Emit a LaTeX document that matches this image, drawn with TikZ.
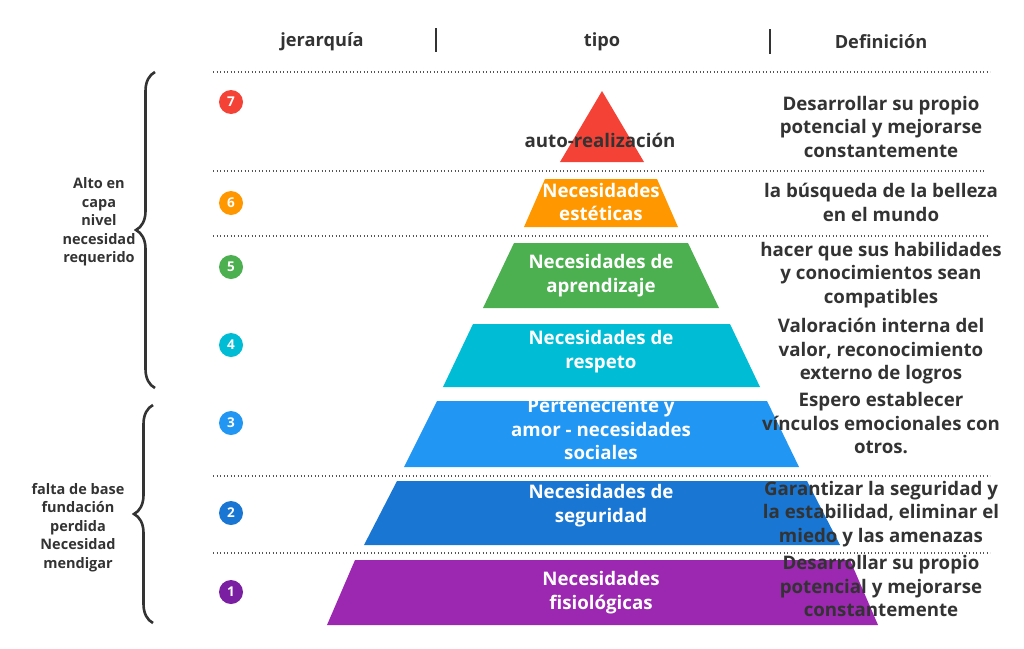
\documentclass[tikz,border=0pt]{standalone}
\usepackage{fontspec}
\setmainfont{Open Sans}
\usetikzlibrary{decorations.pathreplacing}
\definecolor{txt}{HTML}{333333}
\definecolor{dotc}{HTML}{555555}
\definecolor{cseven}{HTML}{F44336}
\definecolor{csix}{HTML}{FF9800}
\definecolor{cfive}{HTML}{4CAF50}
\definecolor{cfour}{HTML}{00BCD4}
\definecolor{cthree}{HTML}{2196F3}
\definecolor{ctwo}{HTML}{1976D2}
\definecolor{cone}{HTML}{9C27B0}
\definecolor{conedark}{HTML}{7B1FA2}
\begin{document}
\begin{tikzpicture}[x=1pt,y=-1pt,
  head/.style={text=txt, font=\fontsize{18.2}{20}\selectfont\bfseries},
  deftext/.style={align=center, text=txt, font=\fontsize{18.7}{23.5}\selectfont\bfseries},
  laytext/.style={align=center, text=white, font=\fontsize{18.7}{23.5}\selectfont\bfseries},
  sidetext/.style={align=center, text=txt, font=\fontsize{14.5}{18.5}\selectfont\bfseries},
  num/.style={circle, inner sep=0pt, minimum size=24pt, text=white, font=\fontsize{13.5}{15}\selectfont\bfseries},
  sep/.style={draw=txt, line width=1.6pt},
  dotline/.style={draw=dotc, line width=1.2pt, dash pattern=on 1.2pt off 2.3pt},
  bracestyle/.style={draw=txt, line width=2.6pt, decorate, decoration={brace, amplitude=19pt, aspect=0.5}}
]
\useasboundingbox (0,0) rectangle (1024,648);
% header
\node[head] (h1) at (322,42) {jerarquía};
\node[head] (h2) at (602,42) {tipo};
\node[head] (h3) at (881,42) {Definición};
\coordinate (s1a) at (436,28); \coordinate (s1b) at (436,52);
\coordinate (s2a) at (770,29); \coordinate (s2b) at (770,54);
\draw[sep] (s1a) -- (s1b);
\draw[sep] (s2a) -- (s2b);
% dotted lines
\foreach \y/\xe in {72/990,171/986,236/987,476/990,553/990}{
  \draw[dotline] (213,\y) -- (\xe,\y);
}
% pyramid layers
\fill[cseven] (602,91) -- (644,162) -- (560,162) -- cycle;
\fill[csix] (545,179) -- (657,179) -- (678,227) -- (524,227) -- cycle;
\fill[cfive] (514,243) -- (688,243) -- (719,308) -- (483,308) -- cycle;
\fill[cfour] (473,324) -- (730,324) -- (760,387) -- (443,387) -- cycle;
\fill[cthree] (437,401) -- (767,401) -- (799,467) -- (404,467) -- cycle;
\fill[ctwo] (397,481) -- (807,481) -- (840,545) -- (364,545) -- cycle;
\fill[cone] (355,560) -- (850,560) -- (878,625) -- (327,625) -- cycle;
% layer texts
\node[deftext] (l7) at (600,140) {auto-realización};
\node[laytext] (l6) at (601,202) {Necesidades\\estéticas};
\node[laytext] (l5) at (601,275.5) {Necesidades de\\aprendizaje};
\node[laytext] (l4) at (601,351.5) {Necesidades de\\respeto};
\node[laytext] (l3) at (601,429) {Perteneciente y\\amor - necesidades\\sociales};
\node[laytext] (l2) at (601,505.5) {Necesidades de\\seguridad};
\node[laytext] (l1) at (601,592.5) {Necesidades\\fisiológicas};
% definitions
\node[deftext] (d7) at (881,126.5) {Desarrollar su propio\\potencial y mejorarse\\constantemente};
\node[deftext] (d6) at (881,202.5) {la búsqueda de la belleza\\en el mundo};
\node[deftext] (d5) at (881,275) {hacer que sus habilidades\\y conocimientos sean\\compatibles};
\node[deftext] (d4) at (881,351.5) {Valoración interna del\\valor, reconocimiento\\externo de logros};
\node[deftext] (d3) at (881,423.5) {Espero establecer\\vínculos emocionales con\\otros.};
\node[deftext] (d2) at (881,514) {Garantizar la seguridad y\\la estabilidad, eliminar el\\miedo y las amenazas};
\node[deftext] (d1) at (881,586) {Desarrollar su propio\\potencial y mejorarse\\constantemente};
% number circles
\node[num, fill=cseven] (n7) at (231,102) {7};
\node[num, fill=csix] (n6) at (231,203) {6};
\node[num, fill=cfive] (n5) at (231,267) {5};
\node[num, fill=cfour] (n4) at (231,345) {4};
\node[num, fill=cthree] (n3) at (231,423) {3};
\node[num, fill=ctwo] (n2) at (231,513) {2};
\node[num, fill=conedark] (n1) at (231,592) {1};
% braces
\coordinate (b1a) at (155,388); \coordinate (b1b) at (155,72);
\coordinate (b2a) at (153,623); \coordinate (b2b) at (153,405);
\draw[bracestyle] (b1a) -- (b1b);
\draw[bracestyle] (b2a) -- (b2b);
\node[sidetext] (t1) at (99,222) {Alto en\\capa\\nivel\\necesidad\\requerido};
\node[sidetext] (t2) at (78,527.5) {falta de base\\fundación\\perdida\\Necesidad\\mendigar};
\end{tikzpicture}
\end{document}
